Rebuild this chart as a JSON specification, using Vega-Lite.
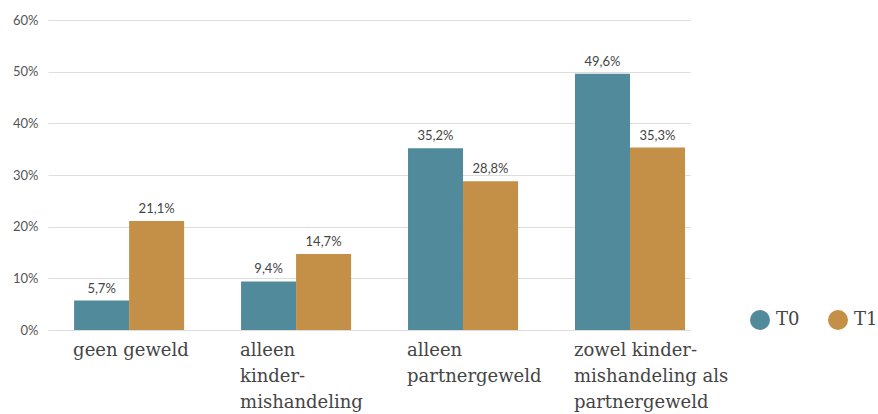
{
  "$schema": "https://vega.github.io/schema/vega-lite/v6.json",
  "autosize": "none",
  "width": 642,
  "height": 310,
  "padding": {"left": 48, "top": 20, "right": 188, "bottom": 84},
  "background": "white",
  "config": {
    "view": {"stroke": null},
    "locale": {"number": {"decimal": ",", "thousands": ".", "grouping": [3], "currency": ["€", ""]}}
  },
  "data": {
    "values": [
      {"cat": "geen geweld", "meting": "T0", "v": 0.057},
      {"cat": "geen geweld", "meting": "T1", "v": 0.211},
      {"cat": "alleen|kinder-|mishandeling", "meting": "T0", "v": 0.094},
      {"cat": "alleen|kinder-|mishandeling", "meting": "T1", "v": 0.147},
      {"cat": "alleen|partnergeweld", "meting": "T0", "v": 0.352},
      {"cat": "alleen|partnergeweld", "meting": "T1", "v": 0.288},
      {"cat": "zowel kinder-|mishandeling als|partnergeweld", "meting": "T0", "v": 0.496},
      {"cat": "zowel kinder-|mishandeling als|partnergeweld", "meting": "T1", "v": 0.353}
    ]
  },
  "encoding": {
    "x": {
      "field": "cat", "type": "nominal", "sort": null, "title": null,
      "scale": {"paddingInner": 0.341, "paddingOuter": 0.093, "align": 0.84},
      "axis": {
        "labelExpr": "split(datum.label, '|')",
        "labelAngle": 0, "labelAlign": "left", "labelBaseline": "top",
        "labelOffset": -56, "labelPadding": 11, "labelLineHeight": 26,
        "labelFont": "DejaVu Serif", "labelFontSize": 18, "labelColor": "#444444",
        "domain": false, "ticks": false, "labelLimit": 0
      }
    },
    "xOffset": {"field": "meting", "type": "nominal", "scale": {"paddingInner": 0, "paddingOuter": 0}},
    "y": {
      "field": "v", "type": "quantitative", "title": null,
      "scale": {"domain": [0, 0.6], "nice": false},
      "axis": {
        "format": ".0%", "values": [0, 0.1, 0.2, 0.3, 0.4, 0.5, 0.6], "labelOverlap": false,
        "domain": false, "ticks": false, "labelPadding": 10,
        "labelFont": "Lato", "labelFontSize": 13, "labelColor": "#555555",
        "gridColor": "#dddddd", "gridWidth": 1.2
      }
    }
  },
  "layer": [
    {
      "mark": {"type": "bar"},
      "encoding": {
        "color": {
          "field": "meting", "type": "nominal", "title": null,
          "scale": {"domain": ["T0", "T1"], "range": ["#508A9B", "#C48F46"]},
          "legend": {
            "orient": "none", "legendX": 702, "legendY": 290, "direction": "horizontal",
            "symbolType": "circle", "symbolSize": 400, "symbolStrokeWidth": 0,
            "labelFont": "DejaVu Serif", "labelFontSize": 18, "labelColor": "#444444",
            "columnPadding": 28, "labelOffset": 6
          }
        }
      }
    },
    {
      "mark": {"type": "text", "baseline": "bottom", "dy": -5, "font": "Lato", "fontSize": 13, "color": "#444444"},
      "encoding": {
        "text": {"field": "v", "type": "quantitative", "format": ".1%"}
      }
    }
  ]
}
